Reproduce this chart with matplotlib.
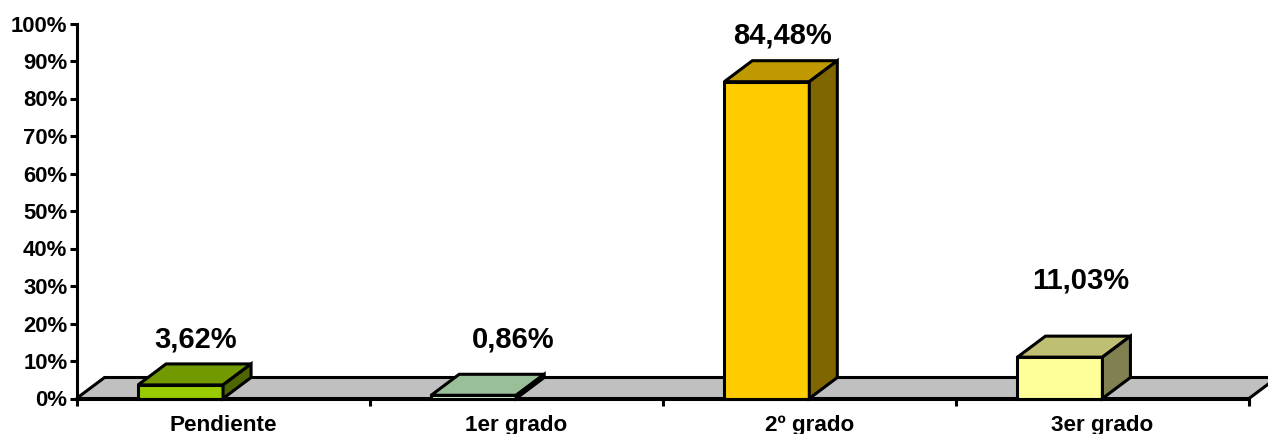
import matplotlib
matplotlib.use('Agg')
import matplotlib.pyplot as plt
from matplotlib.patches import Polygon
import numpy as np

plt.rcParams['font.family'] = ['Liberation Sans', 'DejaVu Sans']
plt.rcParams['font.weight'] = 'bold'

# data
categories = ['Pendiente', '1er grado', '2º grado', '3er grado']
values = [3.62, 0.86, 84.48, 11.03]
value_labels = ['3,62%', '0,86%', '84,48%', '11,03%']
y_ticks = list(range(0, 101, 10))
y_labels = [str(v) + '%' for v in y_ticks]
front_colors = ['#99CC00', '#CCFFCC', '#FFCC00', '#FFFF99']
top_colors = ['#739900', '#99BF99', '#BF9900', '#BFBF73']
side_colors = ['#4D6600', '#668066', '#806600', '#808050']
# labels were moved by hand in the original chart
label_x = [0.405, 1.490, 2.408, 3.425]
label_y = [15.8, 15.8, 96.9, 31.4]

W, H = 1268, 434
left, right, bottom, top = 76.5, 1249, 398.5, 23.5
lw = 2.2

fig = plt.figure(figsize=(W / 100, H / 100), dpi=100)
ax = fig.add_axes([left / W, 1 - bottom / H, (right - left) / W, (bottom - top) / H])
ax.set_xlim(0, 4)
ax.set_ylim(0, 100)

# 3d offset
dx = 28 / ((right - left) / 4)
dy = 21 / ((bottom - top) / 100)
bar_w = 85 / ((right - left) / 4)


def face(pts, color, z):
    ax.add_patch(Polygon(pts, closed=True, facecolor=color, edgecolor='black',
                         linewidth=lw, joinstyle='miter', clip_on=False, zorder=z))


# floor
face([(0, 0), (dx, dy), (4 + dx, dy), (4, 0)], '#C0C0C0', 1)

for i, v in enumerate(values):
    x1 = i + 0.5
    x0 = x1 - bar_w
    face([(x0, 0), (x0, v), (x1, v), (x1, 0)], front_colors[i], 3)
    face([(x0, v), (x0 + dx, v + dy), (x1 + dx, v + dy), (x1, v)], top_colors[i], 3)
    face([(x1, 0), (x1 + dx, dy), (x1 + dx, v + dy), (x1, v)], side_colors[i], 3)
    ax.text(label_x[i], label_y[i], value_labels[i], ha='center', va='center',
            fontsize=21, fontweight='bold', zorder=5)

ax.spines['top'].set_visible(False)
ax.spines['right'].set_visible(False)
ax.spines['left'].set_linewidth(lw)
ax.spines['bottom'].set_linewidth(lw)
ax.spines['left'].set_zorder(4)
ax.spines['bottom'].set_zorder(4)

ax.set_yticks(y_ticks)
ax.set_yticklabels(y_labels, fontsize=15.9, fontweight='bold')
ax.set_xticks(np.arange(5))
ax.set_xticklabels([])
ax.set_xticks(np.arange(4) + 0.5, minor=True)
ax.set_xticklabels(categories, minor=True, fontsize=16.2, fontweight='bold')
ax.tick_params(axis='y', length=5, width=lw, pad=1.5)
ax.tick_params(axis='x', which='major', length=5, width=lw)
ax.tick_params(axis='x', which='minor', length=0, pad=12)

fig.savefig('out.png', dpi=100)
